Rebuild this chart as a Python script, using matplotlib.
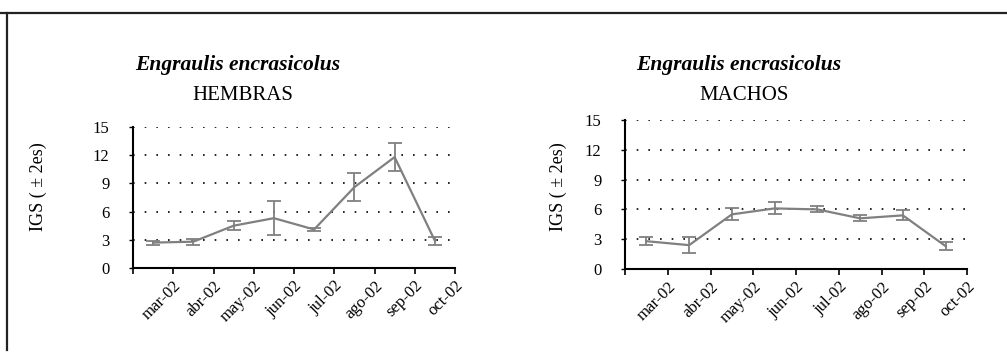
import matplotlib
matplotlib.use("Agg")
import matplotlib.pyplot as plt
from matplotlib.lines import Line2D
import matplotlib.transforms as mtransforms

plt.rcParams['font.family'] = ['Liberation Serif', 'DejaVu Serif']

months = ['mar-02', 'abr-02', 'may-02', 'jun-02', 'jul-02', 'ago-02', 'sep-02', 'oct-02']
hembras = [2.7, 2.8, 4.5, 5.3, 4.1, 8.6, 11.8, 2.9]
hembras_err = [0.2, 0.3, 0.5, 1.8, 0.2, 1.5, 1.5, 0.4]
machos = [2.8, 2.4, 5.5, 6.1, 6.0, 5.1, 5.4, 2.3]
machos_err = [0.4, 0.8, 0.6, 0.6, 0.3, 0.3, 0.5, 0.4]
species = 'Engraulis encrasicolus'
yticks = [0, 3, 6, 9, 12, 15]

W, H = 1007, 358
fig = plt.figure(figsize=(W / 100, H / 100), dpi=100)
fig.patch.set_facecolor('white')

def panel(rect, vals, errs, sex, title_x, ylab_x):
    ax = fig.add_axes(rect)
    n = len(vals)
    xs = [i + 0.5 for i in range(n)]
    for yv in yticks[1:]:
        ax.axhline(yv, color='black', lw=1.2, linestyle=(0, (1, 6)), zorder=1)
    ax.errorbar(xs, vals, yerr=errs, color='#808080', lw=1.6, capsize=5,
                elinewidth=1.3, capthick=1.3, zorder=3)
    ax.set_xlim(0, n)
    ax.set_ylim(0, 15)
    ax.set_yticks(yticks)
    ax.set_yticklabels([str(v) for v in yticks], fontsize=12)
    ax.set_xticks(range(n + 1))
    ax.set_xticklabels([''] + months, fontsize=12, rotation=45,
                       ha='right', rotation_mode='anchor')
    offset = mtransforms.ScaledTranslation(12 / 100, 0, fig.dpi_scale_trans)
    for lab in ax.get_xticklabels():
        lab.set_transform(lab.get_transform() + offset)
    ax.tick_params(axis='x', direction='out', length=4, width=1.2, pad=3)
    ax.tick_params(axis='y', direction='out', length=3, width=1.0, pad=14)
    for s in ['top', 'right']:
        ax.spines[s].set_visible(False)
    for s in ['left', 'bottom']:
        ax.spines[s].set_linewidth(1.5)
        ax.spines[s].set_color('black')
    fig.text(ylab_x / W, 1 - 187 / H, 'IGS ( ± 2es)', rotation=90, ha='center',
             va='center', fontsize=13)
    fig.text(title_x / W, 1 - 65 / H, species, ha='center', va='center',
             fontsize=15.5, style='italic', weight='bold')
    fig.text((title_x + 5) / W, 1 - 96 / H, sex, ha='center', va='center',
             fontsize=15)
    return ax

panel([133 / W, 1 - 268 / H, (455 - 133) / W, (268 - 127) / H],
      hembras, hembras_err, 'HEMBRAS', 238, 38)
panel([625 / W, 1 - 269 / H, (967 - 625) / W, (269 - 120) / H],
      machos, machos_err, 'MACHOS', 739, 558)

fig.add_artist(Line2D([0, 1], [1 - 13 / H, 1 - 13 / H], color='#222222', lw=1.6,
                      transform=fig.transFigure))
fig.add_artist(Line2D([7 / W, 7 / W], [1 - 13 / H, 1 - 350 / H], color='#222222',
                      lw=1.6, transform=fig.transFigure))

fig.savefig('out.png', dpi=100, facecolor='white')
